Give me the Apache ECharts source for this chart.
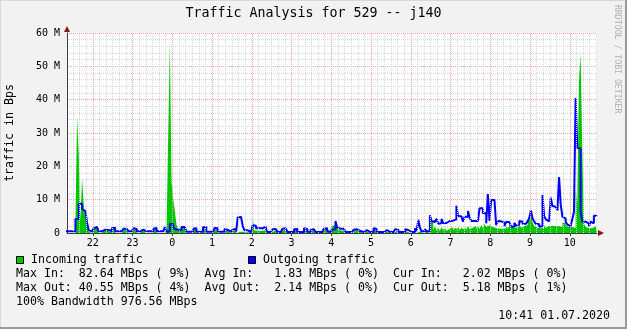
<!DOCTYPE html>
<html><head><meta charset="utf-8">
<script src="https://cdn.jsdelivr.net/npm/echarts@6.0.0/dist/echarts.min.js"></script>
<style>html,body{margin:0;padding:0;background:#f2f2f2}#c{width:627px;height:329px}</style>
</head><body><div id="c"></div><script>
// sample times: minutes after 21:00, one sample every 2.5 minutes
const startMinute = 18.75;
const stepMinutes = 2.5;

// Incoming traffic (green area), MBps
const incoming = [
0,0,0,0,0,0,3.4,34.8,23.4,3.5,16.2,8.4,4.5,2.2,0.3,0,
0.3,1.2,1.7,1.5,0,0,0,0.7,0.9,0.8,0.3,0.2,1.2,1.4,0,0,
0,0,0,0.9,1.1,0.6,0,0,0,1.0,0.9,0,0,0,0.7,0.9,
0,0,0,0,0,1.0,1.2,0,0,0,0,0,0.2,0,28.9,57.0,
15.4,10.2,6.6,2.5,1.0,0.5,1.4,1.5,1.2,0,0,0,0,1.0,1.1,0,
0,0,0,1.2,1.4,0,0,0,0,0,1.0,1.2,0,0,0,0,
0.9,0.6,0,0,0,0.7,0.9,0,0.4,0.5,0.4,0.2,0.2,0.2,0.2,0.1,
0.4,4.5,0.8,0.7,0.6,0.6,0.5,0.8,1.0,0.3,0,0,0,0.6,0.8,0.6,
0,0,0,0.8,1.0,0.4,0,0,0,0,0.8,0.9,0,0,0,0,
1.0,0.8,0.1,0,0.7,0.8,0.6,0,0,0,0,0,1.1,1.3,0.4,0.2,
1.2,2.2,2.3,2.0,1.3,0.8,0.6,0.6,0.8,0.2,0,0,0,0,0.7,0.8,
0.7,0.3,0,0,0.5,0.6,0,0,0,0,1.0,0.8,0,0,0,0,
0.1,0.5,0,0,0,0,0,0.6,0.5,0,0,0,0,0.5,0.4,0,
0,0,0,0,0,0.5,0,0,0,0.4,0,0,3.4,3.4,1.0,2.0,
0.8,1.5,0.7,1.8,0.9,1.6,0.7,1.3,1.0,1.7,0.8,1.5,1.2,2.0,0.9,1.6,
1.0,1.8,1.0,2.1,1.2,1.6,1.1,2.2,1.3,2.0,1.2,2.4,1.5,2.7,1.8,2.3,
2.3,1.8,2.2,1.5,2.0,1.3,1.8,1.2,1.6,1.4,2.1,1.3,2.4,1.5,2.3,1.4,
1.9,1.2,2.6,1.6,2.0,1.5,2.4,3.9,4.1,7.1,3.1,2.1,1.6,2.2,1.4,2.0,
1.5,2.3,1.6,2.1,1.5,2.2,1.7,2.1,2.6,2.0,2.6,1.8,3.1,3.0,2.2,1.8,
1.5,1.8,1.2,1.5,12.9,9.0,45.4,53.9,25.4,2.9,1.8,1.5,1.9,1.4,1.7,2.0,
2.0,2.0
];

// Outgoing traffic (blue line), MBps
const outgoing = [
0.5,0.5,0.5,0.5,0.5,0.5,4.2,4.3,8.8,8.8,7.2,6.6,6.0,3.1,0.8,0.5,
0.6,1.4,1.8,1.6,0.5,0.5,0.5,1.0,1.1,0.9,0.8,0.6,1.4,1.6,0.5,0.5,
0.5,0.5,0.5,1.3,1.3,0.9,0.5,0.5,0.5,1.4,1.2,0.5,0.5,0.5,1.0,1.1,
0.5,0.5,0.5,0.5,0.5,1.3,1.5,0.5,0.5,0.5,0.5,0.4,1.8,0.4,0.5,2.7,
2.7,1.9,1.1,1.0,0.9,0.8,1.8,1.8,1.7,0.4,0.4,0.4,0.4,1.3,1.4,0.4,
0.4,0.4,0.4,1.7,1.8,0.4,0.4,0.4,0.4,0.4,1.5,1.4,0.4,0.4,0.4,0.4,
1.3,0.9,0.4,0.4,0.4,1.1,1.2,0.4,4.7,4.8,4.8,2.1,0.8,0.8,0.8,0.3,
0.6,2.3,2.2,1.4,1.4,1.4,1.4,1.9,1.9,1.1,0.3,0.3,0.3,1.1,1.2,1.2,
0.3,0.3,0.3,1.3,1.4,0.8,0.3,0.3,0.3,0.3,1.1,1.2,0.3,0.3,0.3,0.3,
1.4,1.2,0.4,0.3,1.0,1.1,0.9,0.3,0.3,0.3,0.3,0.3,1.3,1.4,0.6,0.3,
0.5,1.0,1.1,3.6,1.6,1.3,1.3,1.3,1.8,0.4,0.3,0.3,0.3,0.3,1.0,1.1,
1.1,0.6,0.3,0.3,0.9,0.9,0.3,0.3,0.3,0.3,1.4,1.2,0.3,0.3,0.3,0.3,
0.5,0.9,0.3,0.3,0.3,0.3,0.3,1.1,1.0,0.3,0.3,0.3,0.3,1.1,0.9,0.3,
0.3,0.3,0.3,1.4,0.6,3.9,1.6,0.5,0.5,1.2,0.5,0.5,5.3,3.6,3.3,3.4,
4.3,2.8,2.9,4.2,3.0,3.0,3.6,3.6,3.7,3.7,4.1,4.1,8.2,5.1,5.0,4.9,
3.4,4.9,4.9,6.6,4.6,3.6,3.6,3.6,3.6,3.6,7.4,7.4,5.9,5.9,2.9,11.7,
3.6,9.9,9.9,9.4,2.4,3.6,3.5,3.1,3.1,2.1,3.3,3.3,3.3,1.9,1.9,3.1,
2.2,2.6,3.6,3.4,2.7,2.8,3.2,3.5,4.5,6.8,4.4,3.4,2.7,2.7,1.9,2.0,
11.4,5.0,4.1,3.5,3.4,10.6,8.1,7.9,7.9,6.8,16.8,8.5,4.9,4.3,3.4,2.5,
2.1,2.1,4.2,6.4,40.5,25.4,25.4,6.4,3.4,3.4,2.9,2.9,2.0,3.4,2.9,5.2,
5.2,5.2
];

// x axis: hour ticks (minutes after 21:00) and their labels
const hourTicks = [60,120,180,240,300,360,420,480,540,600,660,720,780];
const hourLabels = ['22','23','0','1','2','3','4','5','6','7','8','9','10'];
// y axis tick labels (values in M)
const yTickValues = [0,10,20,30,40,50,60];
const yTickLabels = ['0','10 M','20 M','30 M','40 M','50 M','60 M'];

const legendRows = [
  'Max In:  82.64 MBps ( 9%)  Avg In:   1.83 MBps ( 0%)  Cur In:   2.02 MBps ( 0%)',
  'Max Out: 40.55 MBps ( 4%)  Avg Out:  2.14 MBps ( 0%)  Cur Out:  5.18 MBps ( 1%)',
  '100% Bandwidth 976.56 MBps'
];

const times = incoming.map((_, i) => startMinute + i * stepMinutes);
const inData = times.map((t, i) => [t, incoming[i]]);
const outData = times.map((t, i) => [t, outgoing[i]]);

const minorX = [];
for (let m = 30; m <= 820; m += 10) if (m % 60 !== 0) minorX.push(m);

const MONO = 'DejaVu Sans Mono';
const chart = echarts.init(document.getElementById('c'), null, {renderer: 'canvas'});

const option = {
  animation: false,
  backgroundColor: '#f2f2f2',
  grid: {left: 67, right: 30, top: 33, bottom: 96, show: true, backgroundColor: '#ffffff', borderWidth: 0},
  xAxis: {
    type: 'value', min: 21, max: 821, z: 10,
    axisLine: {show: true, onZero: false, lineStyle: {color: '#3c3c3c', width: 1}},
    axisTick: {show: true, customValues: hourTicks, length: 3, lineStyle: {color: '#3c3c3c'}},
    axisLabel: {customValues: hourTicks, margin: 5, color: '#000', fontFamily: MONO, fontSize: 10,
      formatter: v => hourLabels[hourTicks.indexOf(v)]},
    splitLine: {show: false}
  },
  yAxis: {
    type: 'value', min: 0, max: 60, interval: 10,
    axisLine: {show: true, lineStyle: {color: '#3c3c3c', width: 1}},
    axisTick: {show: false},
    axisLabel: {margin: 7, color: '#000', fontFamily: MONO, fontSize: 10,
      formatter: v => yTickLabels[yTickValues.indexOf(v)]},
    splitLine: {show: true, lineStyle: {color: '#efa6a6', width: 1, type: [1, 1]}},
    minorTick: {show: false, splitNumber: 5},
    minorSplitLine: {show: true, lineStyle: {color: '#d6d6d6', width: 1, type: [1, 1]}}
  },
  series: [
    {
      type: 'line', z: 1, data: [[21, 0]], symbol: 'none', silent: true,
      lineStyle: {opacity: 0},
      markLine: {
        silent: true, symbol: 'none', animation: false, label: {show: false},
        data: minorX.map(v => ({xAxis: v, lineStyle: {color: '#d6d6d6', width: 1, type: [1, 1]}}))
          .concat(hourTicks.map(v => ({xAxis: v, lineStyle: {color: '#efa6a6', width: 1, type: [1, 1]}})))
      }
    },
    {
      name: 'Incoming traffic', type: 'line', step: 'end', z: 3, data: inData,
      symbol: 'none', lineStyle: {width: 0, opacity: 0},
      areaStyle: {color: '#00c800', opacity: 1}
    },
    {
      name: 'Outgoing traffic', type: 'line', step: 'end', z: 4, data: outData,
      symbol: 'none', lineStyle: {color: '#0000ff', width: 2},
      markPoint: {
        silent: true, symbol: 'triangle', animation: false, label: {show: false},
        itemStyle: {color: '#801818'},
        data: [
          {coord: [821, 0], symbolRotate: -90, symbolSize: [6, 6], symbolOffset: [4, 0]},
          {coord: [21, 60], symbolSize: [6, 6], symbolOffset: [0, -4]}
        ]
      }
    }
  ],
  graphic: [
    {type: 'rect', shape: {x: 0, y: 0, width: 627, height: 1}, style: {fill: '#d8d8d8'}, silent: true},
    {type: 'rect', shape: {x: 0, y: 0, width: 1, height: 329}, style: {fill: '#d8d8d8'}, silent: true},
    {type: 'rect', shape: {x: 625, y: 0, width: 2, height: 329}, style: {fill: '#9a9a9a'}, silent: true},
    {type: 'rect', shape: {x: 0, y: 327, width: 627, height: 2}, style: {fill: '#9a9a9a'}, silent: true},
    {type: 'text', x: 313.5, y: 14, style: {text: 'Traffic Analysis for 529 -- j140', font: '13.3px "' + MONO + '"', fill: '#000', textAlign: 'center', textVerticalAlign: 'middle'}},
    {type: 'text', x: 10, y: 133, rotation: Math.PI / 2, style: {text: 'traffic in Bps', font: '11.6px "' + MONO + '"', fill: '#000', textAlign: 'center', textVerticalAlign: 'middle'}},
    {type: 'text', x: 617.5, y: 5, rotation: -Math.PI / 2, style: {text: 'RRDTOOL / TOBI OETIKER', font: '8.2px "' + MONO + '"', fill: '#b0b0b0', textAlign: 'left', textVerticalAlign: 'middle'}},
    {type: 'rect', shape: {x: 16.5, y: 256.5, width: 7, height: 7}, style: {fill: '#00c800', stroke: '#000', lineWidth: 1}},
    {type: 'text', x: 31, y: 260, style: {text: 'Incoming traffic', font: '11.6px "' + MONO + '"', fill: '#000', textVerticalAlign: 'middle'}},
    {type: 'rect', shape: {x: 248.5, y: 256.5, width: 7, height: 7}, style: {fill: '#0000ff', stroke: '#000', lineWidth: 1}},
    {type: 'text', x: 263, y: 260, style: {text: 'Outgoing traffic', font: '11.6px "' + MONO + '"', fill: '#000', textVerticalAlign: 'middle'}},
    {type: 'text', x: 16, y: 273.5, style: {text: legendRows[0], font: '11.6px "' + MONO + '"', fill: '#000', textVerticalAlign: 'middle'}},
    {type: 'text', x: 16, y: 287.5, style: {text: legendRows[1], font: '11.6px "' + MONO + '"', fill: '#000', textVerticalAlign: 'middle'}},
    {type: 'text', x: 16, y: 301.5, style: {text: legendRows[2], font: '11.6px "' + MONO + '"', fill: '#000', textVerticalAlign: 'middle'}},
    {type: 'text', x: 610, y: 315.5, style: {text: '10:41 01.07.2020', font: '11.6px "' + MONO + '"', fill: '#000', textAlign: 'right', textVerticalAlign: 'middle'}}
  ]
};
chart.setOption(option);
</script></body></html>
